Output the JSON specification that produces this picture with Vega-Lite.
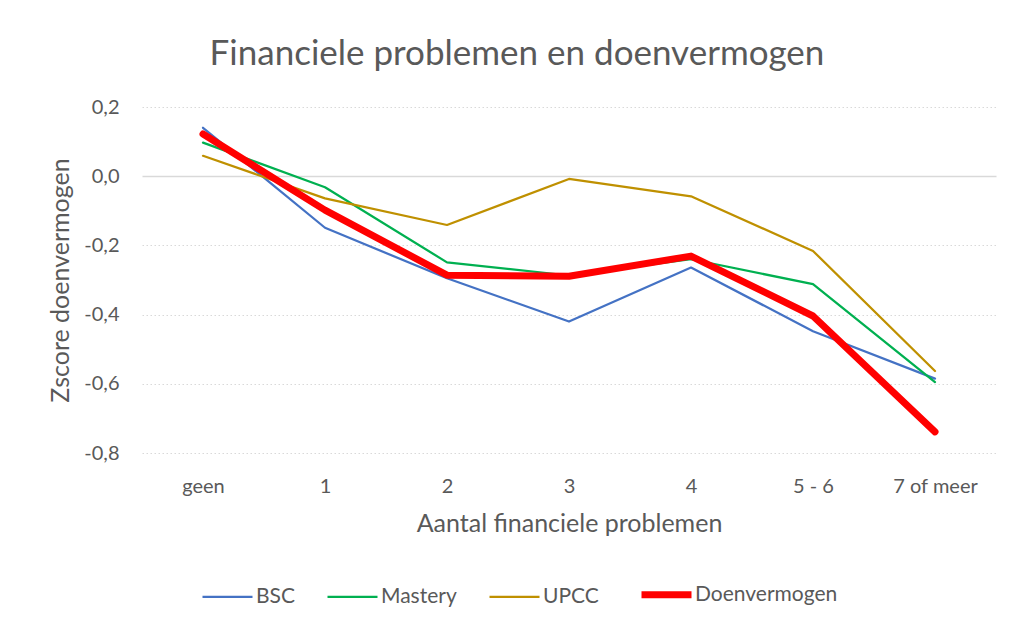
{
  "$schema": "https://vega.github.io/schema/vega-lite/v6.json",
  "autosize": "none",
  "width": 854,
  "height": 346,
  "padding": {"left": 142, "top": 107, "right": 16, "bottom": 175},
  "background": "white",
  "title": {
    "text": "Financiele problemen en doenvermogen",
    "font": "Lato",
    "fontSize": 35,
    "fontWeight": "normal",
    "color": "#595959",
    "anchor": "middle",
    "dx": -52,
    "offset": 25
  },
  "data": {
    "values": [
      {"serie": "BSC", "cat": "geen", "v": 0.14},
      {"serie": "BSC", "cat": "1", "v": -0.149},
      {"serie": "BSC", "cat": "2", "v": -0.295},
      {"serie": "BSC", "cat": "3", "v": -0.42},
      {"serie": "BSC", "cat": "4", "v": -0.264},
      {"serie": "BSC", "cat": "5 - 6", "v": -0.448},
      {"serie": "BSC", "cat": "7 of meer", "v": -0.585},
      {"serie": "Mastery", "cat": "geen", "v": 0.097},
      {"serie": "Mastery", "cat": "1", "v": -0.032},
      {"serie": "Mastery", "cat": "2", "v": -0.249},
      {"serie": "Mastery", "cat": "3", "v": -0.287},
      {"serie": "Mastery", "cat": "4", "v": -0.24},
      {"serie": "Mastery", "cat": "5 - 6", "v": -0.312},
      {"serie": "Mastery", "cat": "7 of meer", "v": -0.595},
      {"serie": "UPCC", "cat": "geen", "v": 0.059},
      {"serie": "UPCC", "cat": "1", "v": -0.064},
      {"serie": "UPCC", "cat": "2", "v": -0.141},
      {"serie": "UPCC", "cat": "3", "v": -0.008},
      {"serie": "UPCC", "cat": "4", "v": -0.058},
      {"serie": "UPCC", "cat": "5 - 6", "v": -0.216},
      {"serie": "UPCC", "cat": "7 of meer", "v": -0.563},
      {"serie": "Doenvermogen", "cat": "geen", "v": 0.122},
      {"serie": "Doenvermogen", "cat": "1", "v": -0.098},
      {"serie": "Doenvermogen", "cat": "2", "v": -0.286},
      {"serie": "Doenvermogen", "cat": "3", "v": -0.289},
      {"serie": "Doenvermogen", "cat": "4", "v": -0.231},
      {"serie": "Doenvermogen", "cat": "5 - 6", "v": -0.404},
      {"serie": "Doenvermogen", "cat": "7 of meer", "v": -0.739}
    ]
  },
  "encoding": {
    "x": {
      "field": "cat",
      "type": "ordinal",
      "sort": ["geen", "1", "2", "3", "4", "5 - 6", "7 of meer"],
      "scale": {"type": "point", "padding": 0.5},
      "axis": {
        "title": "Aantal financiele problemen",
        "domain": false,
        "ticks": false,
        "grid": false,
        "labelAngle": 0,
        "labelPadding": 23,
        "titlePadding": 15
      }
    },
    "y": {
      "field": "v",
      "type": "quantitative",
      "scale": {"domain": [-0.8, 0.2], "nice": false, "zero": false},
      "axis": {
        "title": "Zscore doenvermogen",
        "values": [-0.8, -0.6, -0.4, -0.2, 0, 0.2],
        "labelExpr": "replace(replace(format(datum.value, '.1f'), '.', ','), '\u2212', '-')",
        "domain": false,
        "ticks": false,
        "labelPadding": 23,
        "titlePadding": 10,
        "gridColor": "#d9d9d9",
        "gridWidth": {"condition": {"test": "datum.value === 0", "value": 1.5}, "value": 1.2},
        "gridDash": {"condition": {"test": "datum.value === 0", "value": []}, "value": [1.5, 2.5]}
      }
    },
    "color": {
      "field": "serie",
      "type": "nominal",
      "sort": ["BSC", "Mastery", "UPCC", "Doenvermogen"],
      "scale": {
        "domain": ["BSC", "Mastery", "UPCC", "Doenvermogen"],
        "range": ["#4472C4", "#00B050", "#BF9000", "#FF0000"]
      },
      "legend": {
        "title": null,
        "orient": "none",
        "direction": "horizontal",
        "legendX": 75,
        "legendY": 477,
        "symbolType": "stroke",
        "symbolSize": 2500,
        "symbolStrokeWidth": 2.25,
        "labelOffset": 18,
        "columnPadding": 28,
        "encode": {
          "symbols": {
            "update": {
              "strokeWidth": {"signal": "datum.label === 'Doenvermogen' ? 7 : 2.25"},
              "size": {"value": 2500}
            }
          }
        }
      }
    }
  },
  "layer": [
    {
      "mark": {"type": "line", "strokeWidth": 2.25, "strokeCap": "round", "strokeJoin": "round"}
    },
    {
      "transform": [{"filter": "datum.serie === 'Doenvermogen'"}],
      "mark": {"type": "line", "strokeWidth": 7, "strokeCap": "round", "strokeJoin": "round"}
    }
  ],
  "config": {
    "font": "Lato",
    "view": {"stroke": null},
    "axis": {
      "labelFont": "Lato",
      "labelFontSize": 20,
      "labelColor": "#595959",
      "titleFont": "Lato",
      "titleFontSize": 25,
      "titleFontWeight": "normal",
      "titleColor": "#595959"
    },
    "legend": {
      "labelFont": "Lato",
      "labelFontSize": 21,
      "labelColor": "#595959"
    }
  }
}
